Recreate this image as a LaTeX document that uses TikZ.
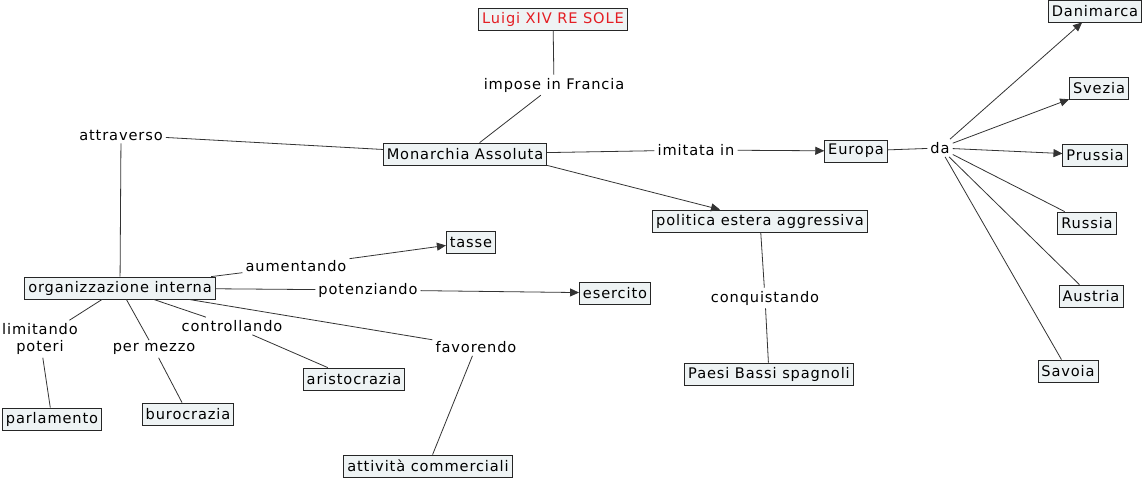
\documentclass[tikz,border=0pt]{standalone}
\usepackage{fontspec}
\newfontfamily\mapfont{DejaVu Sans}[LetterSpace=6]
\usetikzlibrary{arrows.meta}
\definecolor{boxfill}{RGB}{238,243,244}
\definecolor{luigired}{RGB}{228,30,36}

\begin{document}
\begin{tikzpicture}[x=1pt,y=-1pt,
  every node/.style={font=\mapfont\fontsize{14.6}{17}\selectfont,text=black},
  concept/.style={draw=black!85,fill=boxfill,inner xsep=3.5pt,inner ysep=0pt,minimum height=22pt,line width=0.8pt},
  link/.style={inner sep=3pt},
  conn/.style={draw=black!80,line width=0.8pt},
  arr/.style={conn,-{Triangle[length=9pt,width=8pt]}}]
  \useasboundingbox (0,0) rectangle (1146,479);
  % concepts
  \node[concept,text=luigired] (luigi) at (553,19) {Luigi XIV RE SOLE};
  \node[concept] (monarchia) at (465,154) {Monarchia Assoluta};
  \node[concept] (europa) at (856,151) {Europa};
  \node[concept] (danimarca) at (1095,11) {Danimarca};
  \node[concept] (svezia) at (1099,88) {Svezia};
  \node[concept] (prussia) at (1095,155) {Prussia};
  \node[concept] (russia) at (1087,223) {Russia};
  \node[concept] (austria) at (1091,296) {Austria};
  \node[concept] (savoia) at (1068,371) {Savoia};
  \node[concept] (politica) at (760,221) {politica estera aggressiva};
  \node[concept] (paesi) at (769,374) {Paesi Bassi spagnoli};
  \node[concept] (org) at (120,288) {organizzazione interna};
  \node[concept] (tasse) at (471,242) {tasse};
  \node[concept] (esercito) at (615,293) {esercito};
  \node[concept] (parlamento) at (52,419) {parlamento};
  \node[concept] (burocrazia) at (188,414) {burocrazia};
  \node[concept] (aristocrazia) at (354,379) {aristocrazia};
  \node[concept] (attivita) at (428,466) {attività commerciali};
  % linking phrases
  \node[link] (impose) at (554,85) {impose in Francia};
  \node[link] (attraverso) at (121,135) {attraverso};
  \node[link] (imitata) at (696,150) {imitata in};
  \node[link] (da) at (940,148) {da};
  \node[link] (conquistando) at (765,298) {conquistando};
  \node[link] (aumentando) at (296,266) {aumentando};
  \node[link] (potenziando) at (368,290) {potenziando};
  \node[link,align=center] (limitando) at (40,339) {limitando\\poteri};
  \node[link] (permezzo) at (154,349) {per mezzo};
  \node[link] (controllando) at (232,326) {controllando};
  \node[link] (favorendo) at (476,347) {favorendo};
  % connections
  \draw[conn] (luigi) -- (impose);
  \draw[conn] (impose) -- (monarchia);
  \draw[conn] (monarchia) -- (attraverso);
  \draw[conn] (attraverso) -- (org);
  \draw[conn] (monarchia) -- (imitata);
  \draw[arr] (imitata) -- (europa);
  \draw[arr] (monarchia.south east) -- ([xshift=-40pt]politica.north);
  \draw[conn] (europa) -- (da);
  \foreach \n in {danimarca,svezia,prussia}
    \draw[arr] (da) -- (\n);
  \foreach \n in {russia,austria,savoia}
    \draw[conn] (da) -- (\n);
  \draw[conn] (politica) -- (conquistando);
  \draw[conn] (conquistando) -- (paesi);
  \draw[conn] (org) -- (aumentando);
  \draw[arr] (aumentando) -- (tasse);
  \draw[conn] (org) -- (potenziando);
  \draw[arr] (potenziando) -- (esercito);
  \draw[conn] (org) -- (limitando);
  \draw[conn] (limitando) -- (parlamento);
  \draw[conn] (org) -- (permezzo);
  \draw[conn] (permezzo) -- (burocrazia);
  \draw[conn] (org) -- (controllando);
  \draw[conn] (controllando) -- (aristocrazia);
  \draw[conn] (org) -- (favorendo);
  \draw[conn] (favorendo) -- (attivita);
\end{tikzpicture}
\end{document}
